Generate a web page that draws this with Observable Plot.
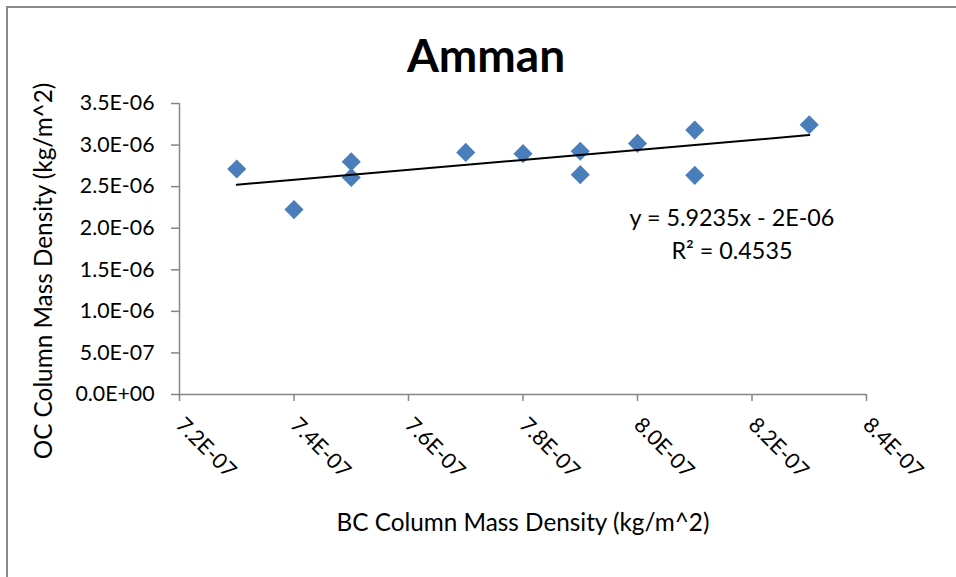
<!DOCTYPE html>
<html>
<head>
<meta charset="utf-8">
<script src="https://cdn.jsdelivr.net/npm/d3@7"></script>
<script src="https://cdn.jsdelivr.net/npm/@observablehq/plot@0.6"></script>
<style>
  html, body { margin: 0; padding: 0; background: #fff; }
  #wrap { position: relative; width: 956px; height: 577px; overflow: hidden; font-family: Lato, "Open Sans", sans-serif; }
  #frame { position: absolute; left: 6px; top: 6px; width: 1000px; height: 1000px; border-left: 2px solid #8a8a8a; border-top: 2px solid #8a8a8a; box-sizing: border-box; pointer-events: none; }
  #wrap svg { position: absolute; left: 0; top: 0; }
</style>
</head>
<body>
<div id="wrap"><div id="frame"></div></div>
<script>
const title = "Amman";
const xLabel = "BC Column Mass Density (kg/m^2)";
const yLabel = "OC Column Mass Density (kg/m^2)";
const bc = [7.3e-7, 7.4e-7, 7.5e-7, 7.5e-7, 7.7e-7, 7.8e-7, 7.9e-7, 7.9e-7, 8.0e-7, 8.1e-7, 8.1e-7, 8.3e-7];
const oc = [2.713e-6, 2.224e-6, 2.80e-6, 2.61e-6, 2.912e-6, 2.897e-6, 2.925e-6, 2.644e-6, 3.02e-6, 3.18e-6, 2.636e-6, 3.245e-6];
const xTicks = [7.2e-7, 7.4e-7, 7.6e-7, 7.8e-7, 8.0e-7, 8.2e-7, 8.4e-7];
const yTicks = [0, 0.5e-6, 1.0e-6, 1.5e-6, 2.0e-6, 2.5e-6, 3.0e-6, 3.5e-6];
const equationLines = ["y = 5.9235x - 2E-06", "R² = 0.4535"];

const data = bc.map((x, i) => ({x, y: oc[i]}));
const fmt = d => d.toExponential(1).toUpperCase().replace(/E([+-])(\d)$/, "E$10$2");
const axisColor = "#868686";

const chart = Plot.plot({
  width: 956,
  height: 577,
  marginLeft: 179,
  marginRight: 90,
  marginTop: 103,
  marginBottom: 183,
  style: {fontFamily: "Lato, 'Open Sans', sans-serif", fontSize: "21px", color: "#000", background: "transparent"},
  x: {domain: [7.2e-7, 8.4e-7]},
  y: {domain: [0, 3.5e-6]},
  marks: [
    Plot.ruleX([7.2e-7], {stroke: axisColor, strokeWidth: 1.5}),
    Plot.ruleY([0], {stroke: axisColor, strokeWidth: 1.5}),
    Plot.axisY({ticks: yTicks, tickFormat: fmt, tickSize: 8, tickPadding: 17, stroke: axisColor, strokeWidth: 1.5, fill: "#000", fontSize: 21.3, label: null}),
    Plot.axisX({ticks: xTicks, tickFormat: fmt, tickSize: 7, tickRotate: 45, tickPadding: 20, stroke: axisColor, strokeWidth: 1.5, fill: "#000", fontSize: 21.3, label: null}),
    Plot.dot(data, {x: "x", y: "y", symbol: "diamond2", r: 8.6, fill: "#4a7ebb", stroke: null}),
    Plot.linearRegressionY(data, {x: "x", y: "y", ci: 0, stroke: "#000", strokeWidth: 2}),
    Plot.text([equationLines.join("\n")], {x: 8.165e-7, y: 1.95e-6, lineHeight: 1.42, fontSize: 23.3, fill: "#000", textAnchor: "middle", lineAnchor: "middle"}),
    Plot.text([title], {frameAnchor: "top", dx: -37, dy: -46, lineAnchor: "middle", textAnchor: "middle", fontSize: 46, fontWeight: "bold", fill: "#000"}),
    Plot.text([xLabel], {frameAnchor: "bottom", dy: 129, lineAnchor: "middle", textAnchor: "middle", fontSize: 24.3, fill: "#000"}),
    Plot.text([yLabel], {frameAnchor: "left", dx: -135, dy: 22, rotate: -90, lineAnchor: "middle", textAnchor: "middle", fontSize: 24.3, fill: "#000"})
  ]
});
document.getElementById("wrap").appendChild(chart);
</script>
</body>
</html>
